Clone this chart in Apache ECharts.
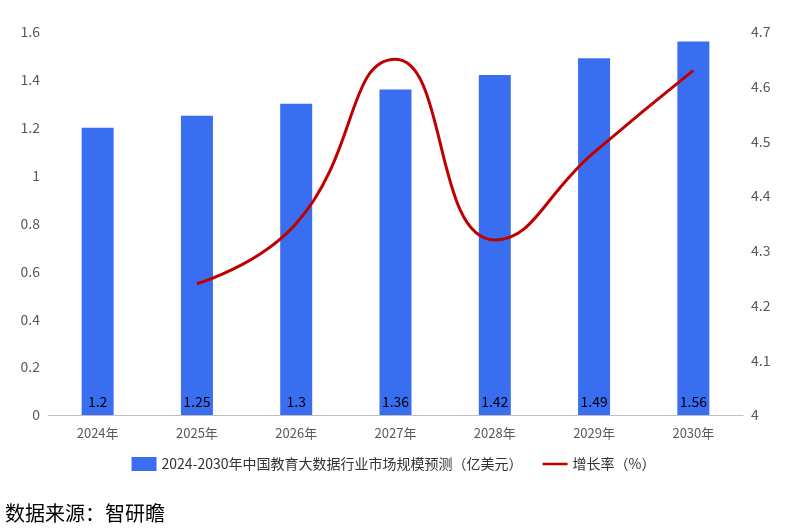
<!DOCTYPE html>
<html><head><meta charset="utf-8">
<script src="https://cdn.jsdelivr.net/npm/echarts@6/dist/echarts.min.js"></script>
<style>html,body{margin:0;padding:0;background:#fff}#c{width:787px;height:532px}</style>
</head><body><div id="c"></div>
<script>
const categories=['2024年','2025年','2026年','2027年','2028年','2029年','2030年'];
const marketSize=[1.2,1.25,1.3,1.36,1.42,1.49,1.56];
const growthRate=[null,4.24,4.35,4.65,4.32,4.48,4.63];
const leftTicks=[0,0.2,0.4,0.6,0.8,1,1.2,1.4,1.6];
const chart=echarts.init(document.getElementById('c'));
const font='"Microsoft YaHei","Noto Sans CJK SC",sans-serif';
chart.setOption({
  animation:false,
  textStyle:{fontFamily:font},
  grid:{left:48,right:44,top:32,bottom:117},
  legend:{bottom:56,itemGap:20,textStyle:{fontSize:14,color:'#333'},
    data:[{name:'2024-2030年中国教育大数据行业市场规模预测（亿美元）',icon:'rect',itemWidth:28,itemHeight:9},
          {name:'增长率（%）',icon:'path://M0,4h30v3h-30z',itemWidth:28,itemHeight:4}]},
  graphic:[{type:'text',left:5,top:503,style:{text:'数据来源：智研瞻',fontSize:20,fill:'#000',fontFamily:font}}],
  xAxis:{type:'category',data:categories,axisTick:{show:false},
    axisLine:{lineStyle:{color:'#bfbfbf'}},axisLabel:{color:'#595959',fontSize:13,margin:12}},
  yAxis:[{type:'value',min:0,max:1.6,interval:0.2,splitLine:{show:false},
      axisLabel:{color:'#595959',fontSize:14,formatter:v=>String(+v.toFixed(1))}},
    {type:'value',min:4,max:4.7,interval:0.1,splitLine:{show:false},
      axisLabel:{color:'#595959',fontSize:14,formatter:v=>String(+v.toFixed(1))}}],
  series:[{name:'2024-2030年中国教育大数据行业市场规模预测（亿美元）',type:'bar',data:marketSize,barWidth:32,
      itemStyle:{color:'#3a6ef0'},
      label:{show:true,position:'insideBottom',distance:6,color:'#000',fontSize:14}},
    {name:'增长率（%）',type:'line',yAxisIndex:1,data:growthRate,smooth:0.5,symbol:'none',
      lineStyle:{color:'#c00000',width:3},itemStyle:{color:'#c00000'},
      label:{show:true,position:'right',distance:8,color:'#000',fontSize:12,offset:[0,6]}}]
});
</script></body></html>
